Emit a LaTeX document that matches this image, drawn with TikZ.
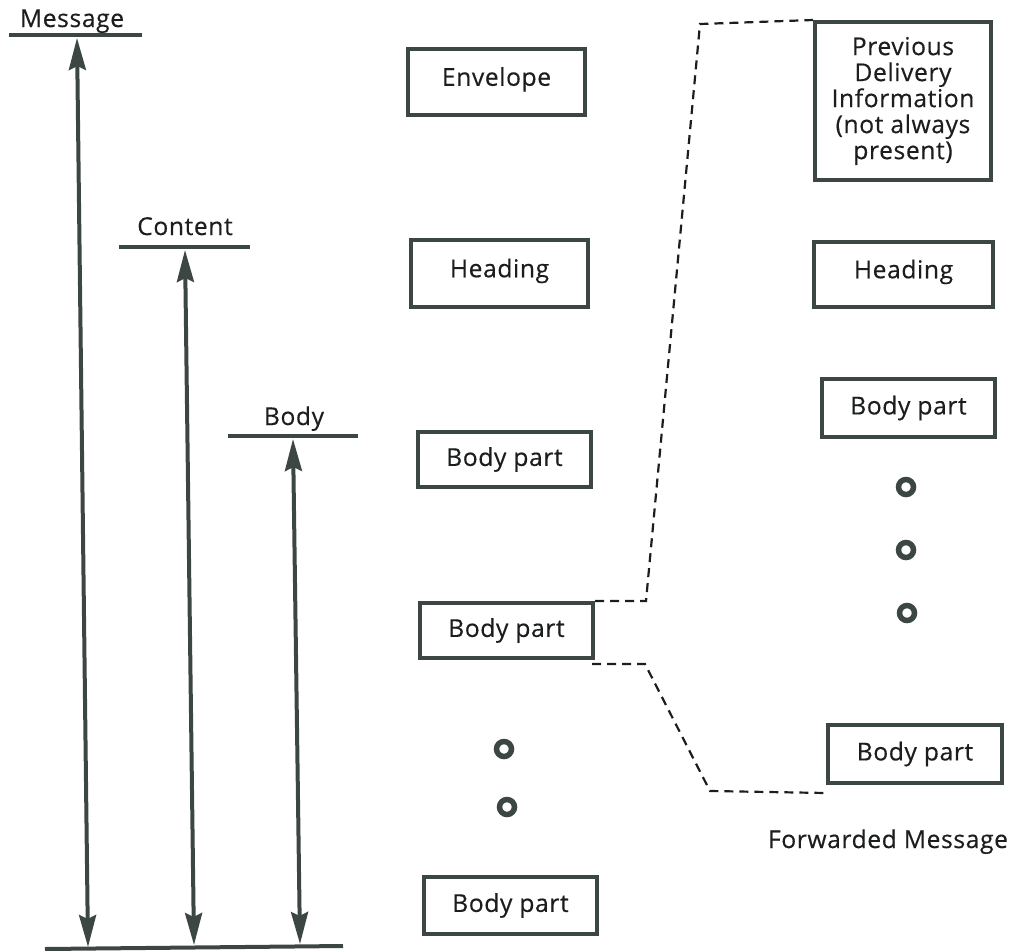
\documentclass[tikz,border=0pt]{standalone}
\usepackage{fontspec}
\setmainfont[LetterSpace=2.5,FakeBold=0.4]{Open Sans}
\usetikzlibrary{arrows.meta}
\definecolor{ink}{RGB}{60,70,66}
\definecolor{txt}{RGB}{28,30,29}
\begin{document}
\begin{tikzpicture}[x=1pt,y=-1pt,
  every node/.style={text=txt,font=\fontsize{24.6}{26}\selectfont},
  part/.style={draw=ink,line width=4pt,inner sep=0pt,align=center},
  raised/.style={text height=19pt,text depth=11.5pt},
  label/.style={anchor=base,inner sep=0pt},
  bar/.style={draw=ink,line width=4pt},
  span/.style={draw=ink,line width=4pt,
    {Stealth[length=32pt,width=17pt,inset=4pt]}-{Stealth[length=32pt,width=17pt,inset=4pt]}},
  link/.style={draw=txt,line width=2.2pt,dash pattern=on 9pt off 6pt},
  dot/.style={circle,draw=ink,line width=5.5pt,minimum size=15pt,inner sep=0pt}]
\useasboundingbox (0,0) rectangle (1018,951);

% scope labels and their bars
\node[label] (lmsg) at (72,27) {Message};
\node[label] (lcon) at (185,235) {Content};
\node[label] (lbody) at (294,425) {Body};
\coordinate (m1) at (9,35);    \coordinate (m2) at (142,35);
\coordinate (c1) at (119,247); \coordinate (c2) at (250,247);
\coordinate (b1) at (228,436); \coordinate (b2) at (358,436);
\coordinate (e1) at (45,949);  \coordinate (e2) at (343,946);
\draw[bar] (m1) -- (m2);
\draw[bar] (c1) -- (c2);
\draw[bar] (b1) -- (b2);
\draw[bar] (e1) -- (e2);

% extent arrows
\coordinate (mt) at (77,38);  \coordinate (mb) at (88,947);
\coordinate (ct) at (185,250); \coordinate (cb) at (194,945);
\coordinate (bt) at (293,439); \coordinate (bb) at (300,944);
\draw[span] (mt) -- (mb);
\draw[span] (ct) -- (cb);
\draw[span] (bt) -- (bb);

% message structure
\node[part,raised,minimum width=177pt,minimum height=66pt] (env) at (496.5,82) {Envelope};
\node[part,raised,minimum width=177pt,minimum height=67pt] (head) at (499.5,273.5) {Heading};
\node[part,minimum width=173pt,minimum height=55pt] (bp1) at (504.5,459.5) {Body part};
\node[part,minimum width=173pt,minimum height=55pt] (bp2) at (506.5,630.5) {Body part};
\node[dot] (d1) at (504,749) {};
\node[dot] (d2) at (507,807) {};
\node[part,minimum width=173pt,minimum height=57pt] (bp3) at (510.5,905.5) {Body part};

% forwarded message
\node[part,minimum width=176pt,minimum height=158pt] (prev) at (903,101)
  {Previous\\Delivery\\Information\\(not always\\present)};
\node[part,raised,minimum width=179pt,minimum height=65pt] (head2) at (903.5,274.5) {Heading};
\node[part,minimum width=173pt,minimum height=58pt] (fbp1) at (908.5,408) {Body part};
\node[dot] (f1) at (906,487) {};
\node[dot] (f2) at (906,550) {};
\node[dot] (f3) at (907,613) {};
\node[part,minimum width=174pt,minimum height=58pt] (fbp2) at (915,754) {Body part};
\node[label] (fwd) at (888,848) {Forwarded Message};

% expansion of the second body part
\coordinate (u1) at (646,601);
\coordinate (u2) at (700,24);
\draw[link] (bp2.north east) -- (u1) -- (u2) -- (prev.north west);
\coordinate (l1) at (592,664);
\coordinate (l2) at (645,664);
\coordinate (l3) at (710,791);
\draw[link] (l1) -- (l2) -- (l3) -- ([yshift=-8pt]fbp2.south west);
\end{tikzpicture}
\end{document}
